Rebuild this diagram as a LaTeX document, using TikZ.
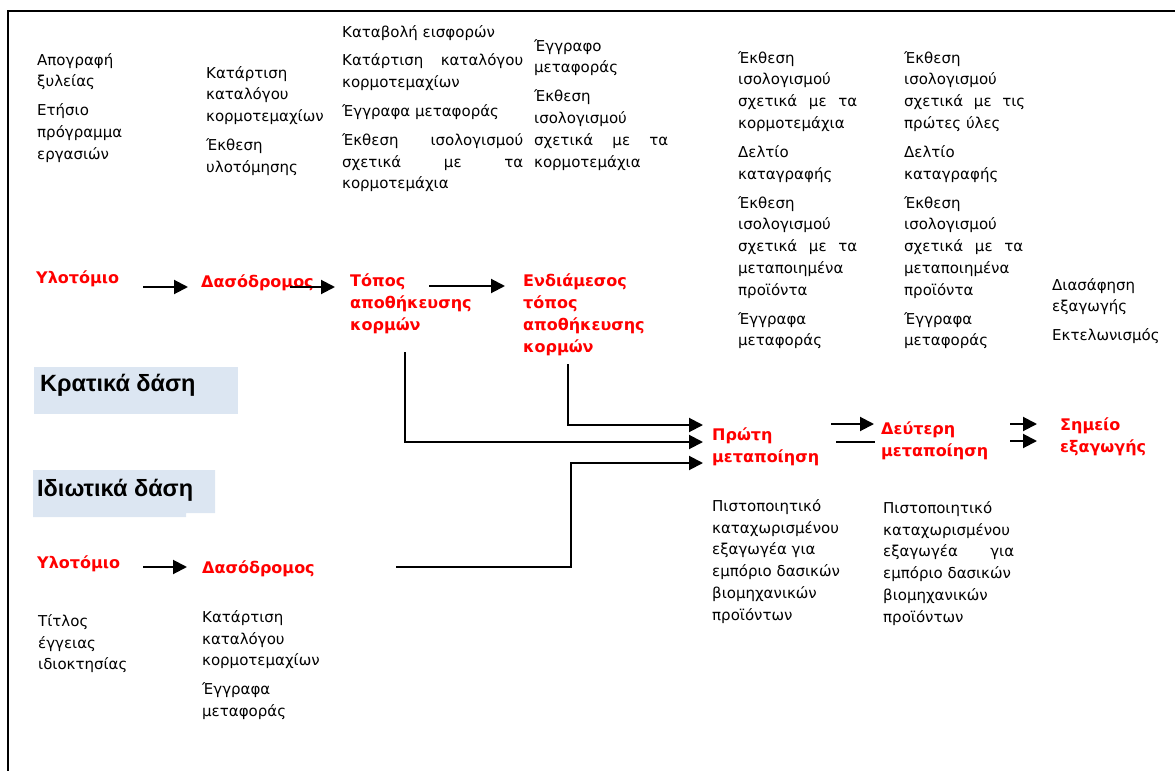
\documentclass[tikz,border=0pt]{standalone}
\usepackage{fontspec}
\setmainfont{DejaVu Sans}
\newfontfamily\titlefont{Liberation Sans}
\usetikzlibrary{arrows.meta}
\definecolor{boxblue}{HTML}{DCE6F2}
\definecolor{redtxt}{HTML}{FF0000}
\tikzset{
  firstline/.style={anchor=north west, inner sep=0pt, yshift=14bp, execute at begin node={\rule{0pt}{14bp}}},
  doc/.style={firstline, align=left, font=\fontsize{15bp}{21.8bp}\selectfont},
  stage/.style={firstline, align=left, text=redtxt, font=\fontsize{16bp}{22bp}\selectfont\bfseries},
  forest/.style={anchor=base west, inner sep=0pt, font=\titlefont\fontsize{23.5bp}{26bp}\selectfont\bfseries},
  frameline/.style={line width=2bp},
  conn/.style={line width=2bp},
  arr/.style={conn, -{Triangle[length=14bp,width=14bp]}},
}
\begin{document}
\begin{tikzpicture}[x=1bp,y=-1bp]
\useasboundingbox (0,0) rectangle (1175,771);
% frame
\draw[frameline] (8,771) -- (8,11) -- (1175,11);
% forest boxes
\fill[boxblue] (34,367) rectangle (238,414);
\fill[boxblue] (33,470) -- (215,470) -- (215,513) -- (186,513) -- (186,517) -- (33,517) -- cycle;
\node[forest] (kratika) at (40,391) {Κρατικά δάση};
\node[forest] (idiotika) at (37,496) {Ιδιωτικά δάση};
% document blocks
\node[doc] (d1) at (37,67) {Απογραφή\\ξυλείας\\[7bp]Ετήσιο\\πρόγραμμα\\εργασιών};
\node[doc] (d2) at (206,80) {Κατάρτιση\\καταλόγου\\κορμοτεμαχίων\\[7bp]Έκθεση\\υλοτόμησης};
\node[doc] (d3) at (342,39) {Καταβολή εισφορών\\[7bp]\makebox[181bp][s]{Κατάρτιση καταλόγου}\\κορμοτεμαχίων\\[7bp]Έγγραφα μεταφοράς\\[7bp]\makebox[181bp][s]{Έκθεση ισολογισμού}\\\makebox[181bp][s]{σχετικά με τα}\\κορμοτεμάχια};
\node[doc] (d4) at (534,53) {Έγγραφο\\μεταφοράς\\[7bp]Έκθεση\\ισολογισμού\\\makebox[134bp][s]{σχετικά με τα}\\κορμοτεμάχια};
\node[doc] (d5) at (738,65) {Έκθεση\\ισολογισμού\\\makebox[119bp][s]{σχετικά με τα}\\κορμοτεμάχια\\[7bp]Δελτίο\\καταγραφής\\[7bp]Έκθεση\\ισολογισμού\\\makebox[119bp][s]{σχετικά με τα}\\μεταποιημένα\\προϊόντα\\[7bp]Έγγραφα\\μεταφοράς};
\node[doc] (d6) at (904,65) {Έκθεση\\ισολογισμού\\\makebox[121bp][s]{σχετικά με τις}\\πρώτες ύλες\\[7bp]Δελτίο\\καταγραφής\\[7bp]Έκθεση\\ισολογισμού\\\makebox[119bp][s]{σχετικά με τα}\\μεταποιημένα\\προϊόντα\\[7bp]Έγγραφα\\μεταφοράς};
\node[doc] (d7) at (1052,292) {Διασάφηση\\εξαγωγής\\[7bp]Εκτελωνισμός};
\node[doc] (p1) at (712,513) {Πιστοποιητικό\\καταχωρισμένου\\εξαγωγέα για\\εμπόριο δασικών\\βιομηχανικών\\προϊόντων};
\node[doc] (p2) at (883,515) {Πιστοποιητικό\\καταχωρισμένου\\\makebox[131bp][s]{εξαγωγέα για}\\εμπόριο δασικών\\βιομηχανικών\\προϊόντων};
\node[doc] (t1) at (38,628) {Τίτλος\\έγγειας\\ιδιοκτησίας};
\node[doc] (t2) at (202,624) {Κατάρτιση\\καταλόγου\\κορμοτεμαχίων\\[7bp]Έγγραφα\\μεταφοράς};
% stages
\node[stage] (yl1) at (36,283) {Υλοτόμιο};
\node[stage] (das1) at (201,287) {Δασόδρομος};
\node[stage] (topos) at (350,288) {Τόπος\\αποθήκευσης\\κορμών};
\node[stage] (endiam) at (523,288) {Ενδιάμεσος\\τόπος\\αποθήκευσης\\κορμών};
\node[stage] (protoi) at (712,442) {Πρώτη\\μεταποίηση};
\node[stage] (deut) at (881,436) {Δεύτερη\\μεταποίηση};
\node[stage] (simeio) at (1060,432) {Σημείο\\εξαγωγής};
\node[stage] (yl2) at (37,568) {Υλοτόμιο};
\node[stage] (das2) at (202,573) {Δασόδρομος};
% connector coordinates
\coordinate (a1s) at (143,287); \coordinate (a1e) at (188,287);
\coordinate (a2s) at (290,287); \coordinate (a2e) at (335,287);
\coordinate (a3s) at (429,286); \coordinate (a3e) at (505,286);
\coordinate (ts) at (405,352); \coordinate (te) at (703,442);
\coordinate (es) at (568,364); \coordinate (ee) at (703,425);
\coordinate (bs) at (396,567); \coordinate (bk) at (571,567); \coordinate (be) at (703,463);
\coordinate (b1s) at (143,567); \coordinate (b1e) at (187,567);
\coordinate (c1s) at (831,424); \coordinate (c1e) at (874,424);
\coordinate (c2s) at (836,442); \coordinate (c2e) at (875,442);
\coordinate (s1s) at (1010,424); \coordinate (s1e) at (1037,424);
\coordinate (s2s) at (1010,441); \coordinate (s2e) at (1037,441);
% connectors
\draw[arr] (a1s) -- (a1e);
\draw[arr] (a2s) -- (a2e);
\draw[arr] (a3s) -- (a3e);
\draw[arr] (ts) |- (te);
\draw[arr] (es) |- (ee);
\draw[arr] (bs) -- (bk) |- (be);
\draw[arr] (b1s) -- (b1e);
\draw[arr] (c1s) -- (c1e);
\draw[conn] (c2s) -- (c2e);
\draw[arr] (s1s) -- (s1e);
\draw[arr] (s2s) -- (s2e);
\end{tikzpicture}
\end{document}
